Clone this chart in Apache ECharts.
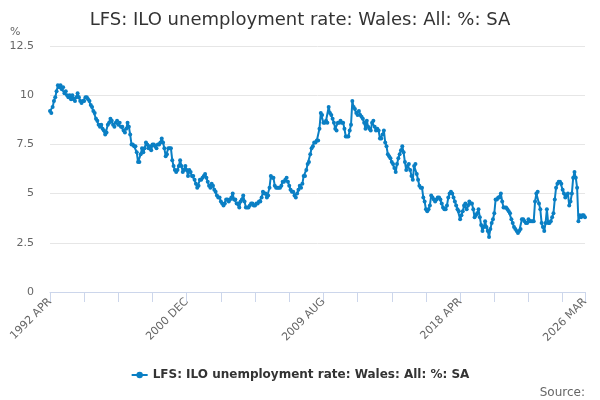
<!DOCTYPE html>
<html lang="en">
<head>
  <meta charset="UTF-8">
  <title>LFS: ILO unemployment rate: Wales</title>
  <style>
    html, body { margin: 0; padding: 0; background-color: #fff; }
  </style>
  <script src="https://cdn.jsdelivr.net/npm/echarts@6/dist/echarts.min.js"></script>
</head>
<body>
<div id="chart" style="width: 600px; height: 400px;"></div>
<script>
  // series name and y ticks
  const seriesName = 'LFS: ILO unemployment rate: Wales: All: %: SA'
  const yTicks = [0, 2.5, 5, 7.5, 10, 12.5]
  const monthNames = ['JAN', 'FEB', 'MAR', 'APR', 'MAY', 'JUN', 'JUL', 'AUG', 'SEP', 'OCT', 'NOV', 'DEC']

  // monthly values, 1992 APR .. 2026 MAR (one row per 12 months)
  const rates = [
    9.2, 9.1, 9.4, 9.7, 9.9, 10.2, 10.5, 10.4, 10.5, 10.3, 10.4, 10.1,
    10.2, 10.0, 9.9, 10.0, 9.8, 10.0, 9.8, 9.7, 9.9, 10.1, 9.9, 9.7,
    9.6, 9.7, 9.7, 9.9, 9.9, 9.8, 9.7, 9.5, 9.4, 9.2, 9.1, 8.8,
    8.7, 8.5, 8.4, 8.5, 8.3, 8.2, 8.0, 8.1, 8.5, 8.6, 8.8, 8.7,
    8.5, 8.4, 8.6, 8.7, 8.5, 8.6, 8.4, 8.4, 8.2, 8.1, 8.3, 8.6,
    8.4, 8.0, 7.5, 7.5, 7.4, 7.4, 7.1, 6.6, 6.6, 7.0, 7.3, 7.1,
    7.3, 7.6, 7.5, 7.3, 7.4, 7.2, 7.5, 7.5, 7.4, 7.3, 7.5, 7.5,
    7.6, 7.8, 7.6, 7.3, 6.9, 7.0, 7.3, 7.3, 7.3, 6.7, 6.4, 6.2,
    6.1, 6.2, 6.4, 6.7, 6.4, 6.1, 6.2, 6.4, 6.2, 5.9, 6.2, 6.1,
    5.9, 5.9, 5.7, 5.5, 5.3, 5.4, 5.7, 5.7, 5.8, 5.9, 6.0, 5.8,
    5.6, 5.4, 5.3, 5.5, 5.4, 5.2, 5.1, 4.9, 4.8, 4.8, 4.6, 4.5,
    4.4, 4.5, 4.7, 4.7, 4.6, 4.7, 4.8, 5.0, 4.7, 4.7, 4.5, 4.5,
    4.3, 4.6, 4.7, 4.9, 4.6, 4.3, 4.3, 4.3, 4.4, 4.5, 4.5, 4.4,
    4.4, 4.5, 4.5, 4.6, 4.6, 4.8, 5.1, 5.0, 5.0, 4.8, 4.9, 5.3,
    5.9, 5.8, 5.8, 5.4, 5.3, 5.3, 5.3, 5.3, 5.4, 5.6, 5.6, 5.7,
    5.8, 5.6, 5.4, 5.2, 5.1, 5.1, 4.9, 4.8, 5.0, 5.2, 5.4, 5.3,
    5.5, 5.9, 5.9, 6.2, 6.5, 6.6, 7.0, 7.3, 7.4, 7.6, 7.6, 7.7,
    7.7, 8.3, 9.1, 9.0, 8.6, 8.6, 8.7, 8.6, 9.4, 9.1, 9.0, 8.8,
    8.6, 8.3, 8.2, 8.6, 8.6, 8.7, 8.6, 8.6, 8.3, 7.9, 7.9, 7.9,
    8.2, 8.5, 9.7, 9.4, 9.3, 9.1, 9.0, 9.2, 9.0, 8.9, 8.8, 8.6,
    8.3, 8.7, 8.4, 8.3, 8.2, 8.6, 8.7, 8.4, 8.2, 8.3, 8.2, 7.8,
    7.8, 8.0, 8.2, 7.6, 7.4, 7.0, 6.9, 6.8, 6.6, 6.5, 6.3, 6.1,
    6.5, 6.8, 7.0, 7.2, 7.4, 7.1, 6.6, 6.2, 6.4, 6.5, 6.2, 5.9,
    5.7, 6.4, 6.5, 6.0, 5.7, 5.4, 5.3, 5.3, 4.8, 4.6, 4.2, 4.1,
    4.2, 4.4, 4.9, 4.8, 4.7, 4.6, 4.7, 4.8, 4.8, 4.7, 4.5, 4.3,
    4.2, 4.2, 4.4, 4.8, 5.0, 5.1, 5.0, 4.8, 4.6, 4.4, 4.2, 4.1,
    3.7, 3.9, 4.1, 4.4, 4.5, 4.2, 4.4, 4.6, 4.5, 4.5, 4.2, 3.8,
    3.9, 4.0, 4.2, 3.8, 3.4, 3.1, 3.3, 3.6, 3.3, 3.1, 2.8, 3.2,
    3.5, 3.7, 4.0, 4.7, 4.7, 4.8, 4.8, 5.0, 4.6, 4.3, 4.3, 4.3,
    4.2, 4.1, 4.0, 3.7, 3.5, 3.3, 3.2, 3.1, 3.0, 3.1, 3.2, 3.7,
    3.7, 3.6, 3.5, 3.5, 3.7, 3.6, 3.6, 3.6, 3.6, 4.6, 5.0, 5.1,
    4.5, 4.2, 3.5, 3.3, 3.1, 3.5, 4.2, 3.5, 3.5, 3.6, 3.8, 4.0,
    4.7, 5.3, 5.5, 5.6, 5.6, 5.5, 5.2, 5.0, 4.8, 4.9, 5.0, 4.4,
    4.6, 5.0, 5.8, 6.1, 5.8, 5.3, 3.6, 3.9, 3.8, 3.9, 3.9, 3.8
  ]

  // month labels: "1992 APR" onwards, one per value
  const months = []
  for (let k = 0; k < rates.length; k++) {
    const m = 3 + k
    months.push((1992 + Math.floor(m / 12)) + ' ' + monthNames[m % 12])
  }
  const last = months.length - 1

  const chart = echarts.init(document.getElementById('chart'))
  const option = {
    animation: false,
    textStyle: { fontFamily: 'DejaVu Sans' },
    title: [{
      text: seriesName,
      left: 'center',
      top: 6,
      textStyle: { color: '#333', fontSize: 18, fontWeight: 'normal' }
    }, {
      text: 'Source:',
      right: 10,
      top: 382,
      textStyle: { color: '#666', fontSize: 12, fontWeight: 'normal' }
    }],
    graphic: [{
      type: 'text',
      left: 10,
      top: 27,
      style: { text: '%', fill: '#666', fontSize: 11, fontFamily: 'DejaVu Sans' }
    }],
    legend: {
      bottom: 14,
      left: 'center',
      itemWidth: 16,
      itemHeight: 8,
      textStyle: { color: '#333', fontSize: 12, fontWeight: 'bold' },
      data: [seriesName]
    },
    grid: { left: 50, right: 15, top: 46, bottom: 108 },
    xAxis: {
      type: 'category',
      data: months,
      boundaryGap: false,
      axisLine: { lineStyle: { color: '#ccd6eb' } },
      axisTick: {
        length: 10,
        lineStyle: { color: '#ccd6eb' },
        interval: (idx) => idx % 26 === 0 || idx === last
      },
      axisLabel: {
        rotate: 45,
        color: '#666',
        fontSize: 11,
        interval: (idx) => idx % 104 === 0 || idx === last
      }
    },
    yAxis: {
      type: 'value',
      min: yTicks[0],
      max: yTicks[yTicks.length - 1],
      interval: 2.5,
      axisLine: { show: false },
      axisTick: { show: false },
      axisLabel: { color: '#666', fontSize: 11, margin: 16 },
      splitLine: { lineStyle: { color: '#e6e6e6' } }
    },
    series: [{
      name: seriesName,
      type: 'line',
      data: rates,
      symbol: 'circle',
      symbolSize: 4,
      showAllSymbol: true,
      itemStyle: { color: '#0a7fc4' },
      lineStyle: { color: '#0a7fc4', width: 2 }
    }]
  }
  chart.setOption(option)
</script>
</body>
</html>
